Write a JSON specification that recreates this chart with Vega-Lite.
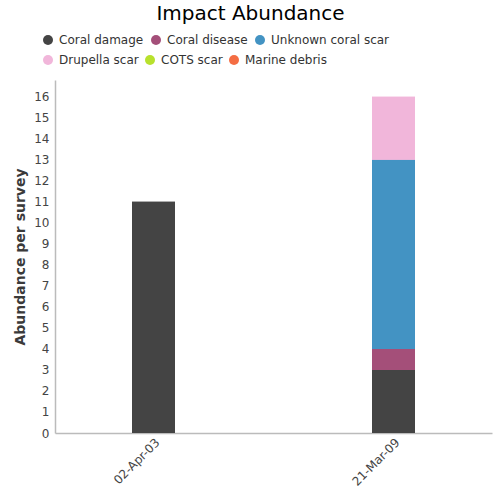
{
  "$schema": "https://vega.github.io/schema/vega-lite/v6.json",
  "autosize": {"type": "none"},
  "width": 437,
  "height": 353,
  "padding": {"left": 55, "top": 80, "right": 8, "bottom": 67},
  "title": {"text": "Impact Abundance", "font": "DejaVu Sans", "fontSize": 20, "fontWeight": "normal", "color": "#000000", "anchor": "middle", "dx": -23, "offset": 10},
  "config": {"view": {"stroke": null}, "font": "DejaVu Sans",
    "legend": {"title": null, "orient": "none", "direction": "horizontal", "symbolType": "circle", "symbolSize": 100, "symbolOpacity": 1, "labelFontSize": 12, "labelColor": "#333333", "columnPadding": 6, "labelOffset": 5}},
  "data": {"values": [
    {"date": "02-Apr-03", "type": "Coral damage", "value": 11},
    {"date": "21-Mar-09", "type": "Coral damage", "value": 3},
    {"date": "21-Mar-09", "type": "Coral disease", "value": 1},
    {"date": "21-Mar-09", "type": "Unknown coral scar", "value": 9},
    {"date": "21-Mar-09", "type": "Drupella scar", "value": 3}
  ]},
  "transform": [
    {"calculate": "indexof(['Coral damage','Coral disease','Unknown coral scar','Drupella scar','COTS scar','Marine debris'], datum.type)", "as": "ord"}
  ],
  "encoding": {
    "x": {"field": "date", "type": "nominal", "scale": {"paddingInner": 0.821, "paddingOuter": 0.321},
      "axis": {"title": null, "labelAngle": -45, "labelFontSize": 12, "labelColor": "#444444", "ticks": false, "domainColor": "#bbbbbb", "domainWidth": 1.5, "labelPadding": 7, "labelOffset": 4, "labelAlign": "right", "labelBaseline": "middle"}},
    "y": {"field": "value", "type": "quantitative", "stack": "zero", "scale": {"domain": [0, 16.8], "nice": false},
      "axis": {"title": "Abundance per survey", "titleFontSize": 14, "titleFontWeight": "bold", "titleColor": "#3a3a3a", "titlePadding": 6, "labelFontSize": 12, "labelColor": "#444444", "ticks": false, "grid": false, "domainColor": "#bbbbbb", "domainWidth": 1.5, "values": [0,1,2,3,4,5,6,7,8,9,10,11,12,13,14,15,16], "labelPadding": 6}},
    "order": {"field": "ord", "type": "quantitative", "sort": "ascending"}
  },
  "layer": [
    {
      "mark": {"type": "bar"},
      "encoding": {
        "color": {"field": "type", "type": "nominal",
          "scale": {"domain": ["Coral damage", "Coral disease", "Unknown coral scar", "Drupella scar", "COTS scar", "Marine debris"],
            "range": ["#444444", "#a44f79", "#4393c3", "#f1b6da", "#b8e12d", "#f46d43"]},
          "legend": {"values": ["Coral damage", "Coral disease", "Unknown coral scar"], "legendX": -13, "legendY": -46}
        }
      }
    },
    {
      "mark": {"type": "bar"},
      "encoding": {
        "color": {"field": "type", "type": "nominal",
          "scale": {"domain": ["Coral damage", "Coral disease", "Unknown coral scar", "Drupella scar", "COTS scar", "Marine debris"],
            "range": ["#444444", "#a44f79", "#4393c3", "#f1b6da", "#b8e12d", "#f46d43"]},
          "legend": {"values": ["Drupella scar", "COTS scar", "Marine debris"], "legendX": -13, "legendY": -26, "columnPadding": 5}
        }
      }
    }
  ],
  "resolve": {"scale": {"color": "independent"}, "legend": {"color": "independent"}}
}
